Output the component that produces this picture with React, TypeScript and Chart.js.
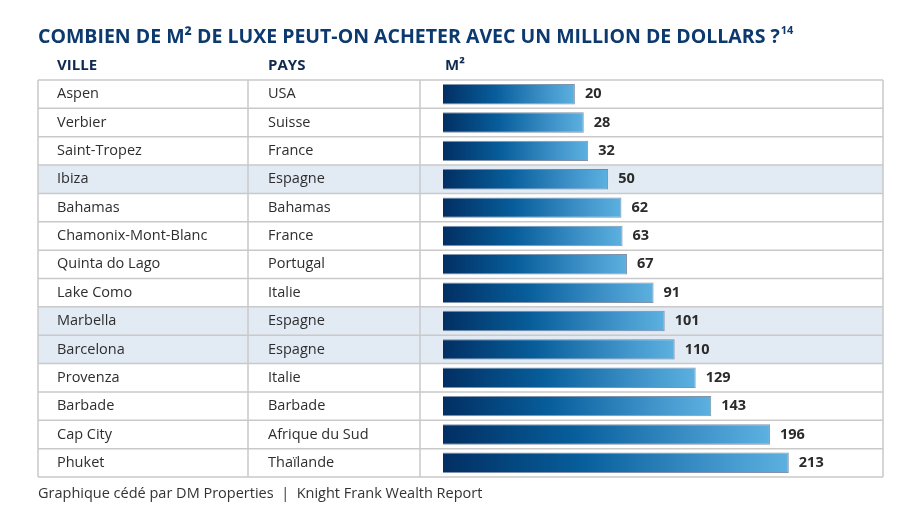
import React, { useEffect, useRef } from "react";
import { Chart, registerables } from "chart.js";

Chart.register(...registerables);

const cities = [
  "Aspen", "Verbier", "Saint-Tropez", "Ibiza", "Bahamas", "Chamonix-Mont-Blanc",
  "Quinta do Lago", "Lake Como", "Marbella", "Barcelona", "Provenza", "Barbade",
  "Cap City", "Phuket",
];
const countries = [
  "USA", "Suisse", "France", "Espagne", "Bahamas", "France", "Portugal", "Italie",
  "Espagne", "Espagne", "Italie", "Barbade", "Afrique du Sud", "Thaïlande",
];
const squareMeters = [20, 28, 32, 50, 62, 63, 67, 91, 101, 110, 129, 143, 196, 213];
const highlighted = ["Ibiza", "Marbella", "Barcelona"];

const title = "COMBIEN DE M² DE LUXE PEUT-ON ACHETER AVEC UN MILLION DE DOLLARS ?";
const titleNote = "14";
const headers = ["VILLE", "PAYS", "M²"];
const footer = "Graphique cédé par DM Properties  |  Knight Frank Wealth Report";

const X_MIN = -99;
const X_MAX = 298;

const FONT = '"Open Sans", "Liberation Sans", sans-serif';

const tablePlugin = {
  id: "tablePlugin",
  beforeDatasetsDraw(chart: any) {
    const { ctx, chartArea, scales } = chart;
    const y = scales.y;
    const left = 38;
    const right = chartArea.right;
    const col1 = 248;
    const col2 = chartArea.left - 23;
    const n = cities.length;
    const band = (chartArea.bottom - chartArea.top) / n;
    ctx.save();
    cities.forEach((c, i) => {
      if (highlighted.includes(c)) {
        const cy = y.getPixelForValue(i);
        ctx.fillStyle = "#e2eaf4";
        ctx.fillRect(left, cy - band / 2, right - left, band);
      }
    });
    ctx.strokeStyle = "#c9c9c9";
    ctx.lineWidth = 1.5;
    ctx.beginPath();
    for (let i = 0; i <= n; i++) {
      const yy = chartArea.top + i * band;
      ctx.moveTo(left, yy);
      ctx.lineTo(right, yy);
    }
    [left, col1, col2, right].forEach((xx) => {
      ctx.moveTo(xx, chartArea.top);
      ctx.lineTo(xx, chartArea.bottom);
    });
    ctx.stroke();
    ctx.fillStyle = "#2e2e2e";
    ctx.font = `14.5px ${FONT}`;
    ctx.textBaseline = "middle";
    ctx.textAlign = "left";
    cities.forEach((c, i) => {
      const cy = y.getPixelForValue(i);
      ctx.fillText(c, 57, cy);
      ctx.fillText(countries[i], 268, cy);
    });
    ctx.fillStyle = "#0f2a4f";
    ctx.font = `bold 15px ${FONT}`;
    ctx.fillText(headers[0], 57, 66);
    ctx.fillText(headers[1], 268, 66);
    ctx.fillText(headers[2], 445, 66);
    ctx.fillStyle = "#0d3a6e";
    ctx.font = `bold 19.5px ${FONT}`;
    ctx.fillText(title, 38, 37);
    const tw = ctx.measureText(title).width;
    ctx.font = `bold 11px ${FONT}`;
    ctx.fillText(titleNote, 38 + tw + 1, 31);
    ctx.fillStyle = "#333333";
    ctx.font = `14.5px ${FONT}`;
    ctx.fillText(footer, 38, 494);
    ctx.restore();
  },
  afterDatasetsDraw(chart: any) {
    const { ctx } = chart;
    const meta = chart.getDatasetMeta(0);
    ctx.save();
    ctx.fillStyle = "#2b2b2b";
    ctx.font = `bold 14.5px ${FONT}`;
    ctx.textBaseline = "middle";
    ctx.textAlign = "left";
    meta.data.forEach((el: any, i: number) => {
      ctx.fillText(String(squareMeters[i]), el.x + 10, el.y);
    });
    ctx.restore();
  },
};

export default function App() {
  const ref = useRef<HTMLCanvasElement>(null);
  useEffect(() => {
    document.body.style.margin = "0";
    const canvas = ref.current!;
    const chart = new Chart(canvas, {
      type: "bar",
      data: {
        labels: cities,
        datasets: [
          {
            data: squareMeters,
            base: X_MIN,
            barPercentage: 0.72,
            categoryPercentage: 1,
            borderWidth: 1,
            borderColor: "rgba(0,40,90,0.5)",
            backgroundColor: (c: any) => {
              const chartRef = c.chart;
              const xs = chartRef.scales?.x;
              if (!xs || !chartRef.chartArea || c.raw === undefined) return "#0a5a96";
              const x0 = xs.getPixelForValue(X_MIN);
              const x1 = xs.getPixelForValue(c.raw);
              if (!isFinite(x0) || !isFinite(x1)) return "#0a5a96";
              const g = chartRef.ctx.createLinearGradient(x0, 0, x1, 0);
              g.addColorStop(0, "#022f63");
              g.addColorStop(0.4, "#075e9b");
              g.addColorStop(0.75, "#3b8fc6");
              g.addColorStop(1, "#5cb1e0");
              return g;
            },
          },
        ],
      },
      options: {
        indexAxis: "y",
        responsive: false,
        animation: false,
        events: [],
        layout: { padding: { left: 443, right: 17, top: 80, bottom: 39 } },
        scales: {
          x: { display: false, min: X_MIN, max: X_MAX },
          y: { display: false, offset: true },
        },
        plugins: {
          legend: { display: false },
          tooltip: { enabled: false },
          title: { display: false },
        },
      },
      plugins: [tablePlugin],
    } as any);
    return () => chart.destroy();
  }, []);
  return (
    <div style={{ width: 900, height: 516, background: "#fff" }}>
      <canvas ref={ref} width={900} height={516} />
    </div>
  );
}
